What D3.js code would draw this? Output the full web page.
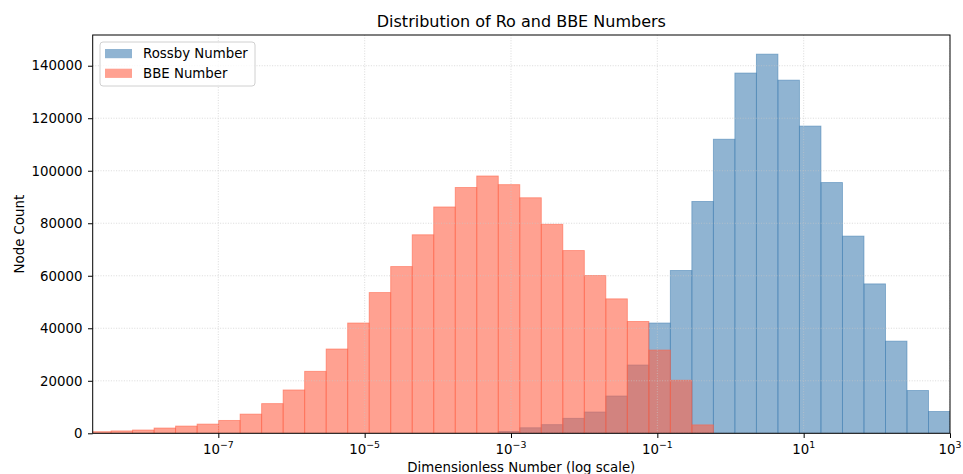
<!DOCTYPE html>
<html>

<head>
  <title>Distribution of Ro and BBE Numbers</title>
  <script src="https://cdn.jsdelivr.net/npm/d3@7/dist/d3.min.js"></script>
  <style>
    body {
      margin: 0;
      background: white;
    }

    svg text {
      font-family: "DejaVu Sans", sans-serif;
      fill: #000;
    }

    line.grid {
      stroke: #c8c8c8;
      stroke-width: 0.8;
      stroke-dasharray: 1, 1.6;
      opacity: 0.8;
    }

    rect.rossby {
      fill: steelblue;
      fill-opacity: 0.6;
      stroke: steelblue;
      stroke-opacity: 0.6;
      stroke-width: 0.9;
    }

    rect.bbe {
      fill: tomato;
      fill-opacity: 0.6;
      stroke: tomato;
      stroke-opacity: 0.6;
      stroke-width: 0.9;
    }
  </style>
</head>

<body>
  <svg id="chart"></svg>

  <script>
    // counts per log bin (40 bins shared by both series)
    var rossbyCounts = [0, 0, 0, 0, 0, 0, 0, 0, 0, 0,
      0, 0, 0, 0, 0, 0, 0, 0, 0, 700,
      2100, 3300, 5700, 8100, 14200, 26000, 42000, 62000, 88300, 112000,
      137200, 144400, 134500, 117000, 95500, 75100, 56900, 35100, 16300, 8300];

    var bbeCounts = [600, 900, 1250, 2000, 2750, 3500, 4900, 7300, 11300, 16500,
      23600, 32100, 42000, 53600, 63500, 75600, 86200, 93600, 98000, 94700,
      89700, 79600, 69600, 60100, 51200, 42600, 31700, 20200, 3200, 0,
      0, 0, 0, 0, 0, 0, 0, 0, 0, 0];

    var seriesNames = ['Rossby Number', 'BBE Number'];
    var xTickExps = [-7, -5, -3, -1, 1, 3];
    var yTicks = [0, 20000, 40000, 60000, 80000, 100000, 120000, 140000];

    // bin edges in log10 space
    var binLo = -8.76, binHi = 3, nBins = rossbyCounts.length;
    var binStep = (binHi - binLo) / nBins;

    var width = 963, height = 474;
    var mLeft = 92.7, mRight = 950, mTop = 35, mBottom = 433.3;
    var fs = '13.33px';

    var svg = d3.select('#chart')
      .attr('width', width)
      .attr('height', height);

    var x = d3.scaleLog()
      .domain([Math.pow(10, -8.717), 1000])
      .range([mLeft, mRight]);

    var y = d3.scaleLinear()
      .domain([0, 151700])
      .range([mBottom, mTop]);

    svg.append('clipPath')
      .attr('id', 'plot-clip')
      .append('rect')
      .attr('x', mLeft)
      .attr('y', mTop)
      .attr('width', mRight - mLeft)
      .attr('height', mBottom - mTop);

    var plot = svg.append('g').attr('clip-path', 'url(#plot-clip)');

    function drawBars(counts, cls) {
      var bins = counts.map((c, i) => ({
        x0: Math.pow(10, binLo + i * binStep),
        x1: Math.pow(10, binLo + (i + 1) * binStep),
        count: c
      })).filter(d => d.count > 0);

      plot.selectAll('rect.' + cls)
        .data(bins)
        .enter()
        .append('rect')
        .attr('class', cls)
        .attr('x', d => x(d.x0))
        .attr('width', d => x(d.x1) - x(d.x0))
        .attr('y', d => y(d.count))
        .attr('height', d => y(0) - y(d.count));
    }

    drawBars(rossbyCounts, 'rossby');
    drawBars(bbeCounts, 'bbe');

    //grid sits above the bars, like matplotlib
    plot.selectAll('line.gy')
      .data(yTicks)
      .enter()
      .append('line')
      .attr('class', 'grid')
      .attr('x1', mLeft)
      .attr('x2', mRight)
      .attr('y1', d => y(d))
      .attr('y2', d => y(d));

    plot.selectAll('line.gx')
      .data(xTickExps)
      .enter()
      .append('line')
      .attr('class', 'grid')
      .attr('x1', d => x(Math.pow(10, d)))
      .attr('x2', d => x(Math.pow(10, d)))
      .attr('y1', mTop)
      .attr('y2', mBottom);

    // axes
    var yAxis = d3.axisLeft(y)
      .tickValues(yTicks)
      .tickSize(4.7)
      .tickPadding(5.5)
      .tickFormat(d3.format('d'));

    var gy = svg.append('g')
      .attr('transform', 'translate(' + mLeft + ',0)')
      .call(yAxis);
    gy.select('.domain').remove();
    gy.attr('font-size', 13.33).attr('font-family', 'DejaVu Sans');
    gy.selectAll('text').style('font-size', fs);
    gy.selectAll('line').attr('stroke', '#000').attr('stroke-width', 1);

    var xAxis = d3.axisBottom(x)
      .tickValues(xTickExps.map(e => Math.pow(10, e)))
      .tickSize(4.7)
      .tickFormat('');

    var gx = svg.append('g')
      .attr('transform', 'translate(0,' + mBottom + ')')
      .call(xAxis);
    gx.select('.domain').remove();
    gx.selectAll('line').attr('stroke', '#000').attr('stroke-width', 1);

    // 10^n tick labels with superscript exponent
    var xl = svg.selectAll('text.xtick')
      .data(xTickExps)
      .enter()
      .append('text')
      .attr('class', 'xtick')
      .attr('x', d => x(Math.pow(10, d)))
      .attr('y', 453.5)
      .attr('text-anchor', 'middle')
      .style('font-size', fs);
    xl.append('tspan').text('10');
    xl.append('tspan')
      .attr('dy', -5.6)
      .style('font-size', '9.4px')
      .text(d => d < 0 ? '\u2212' + Math.abs(d) : String(d));

    // frame
    svg.append('rect')
      .attr('x', mLeft)
      .attr('y', mTop)
      .attr('width', mRight - mLeft)
      .attr('height', mBottom - mTop)
      .attr('fill', 'none')
      .attr('stroke', '#000')
      .attr('stroke-width', 1);

    // title and labels
    svg.append('text')
      .attr('x', (mLeft + mRight) / 2)
      .attr('y', 27)
      .attr('text-anchor', 'middle')
      .style('font-size', '16px')
      .text('Distribution of Ro and BBE Numbers');

    svg.append('text')
      .attr('x', (mLeft + mRight) / 2)
      .attr('y', 471.5)
      .attr('text-anchor', 'middle')
      .style('font-size', fs)
      .text('Dimensionless Number (log scale)');

    svg.append('text')
      .attr('transform', 'translate(23.5,' + ((mTop + mBottom) / 2) + ') rotate(-90)')
      .attr('text-anchor', 'middle')
      .style('font-size', fs)
      .text('Node Count');

    // legend
    var legend = svg.append('g');
    legend.append('rect')
      .attr('x', 100)
      .attr('y', 42)
      .attr('width', 155)
      .attr('height', 44)
      .attr('rx', 3)
      .attr('fill', 'white')
      .attr('fill-opacity', 0.8)
      .attr('stroke', '#d0d0d0')
      .attr('stroke-width', 1);

    var items = legend.selectAll('g.item')
      .data(seriesNames)
      .enter()
      .append('g')
      .attr('transform', (d, i) => 'translate(0,' + (i * 19.7) + ')');

    items.append('rect')
      .attr('x', 105)
      .attr('y', 49)
      .attr('width', 27)
      .attr('height', 9.2)
      .attr('fill', (d, i) => i == 0 ? 'steelblue' : 'tomato')
      .attr('fill-opacity', 0.6);

    items.append('text')
      .attr('x', 143)
      .attr('y', 58)
      .style('font-size', fs)
      .text(d => d);
  </script>
</body>

</html>
